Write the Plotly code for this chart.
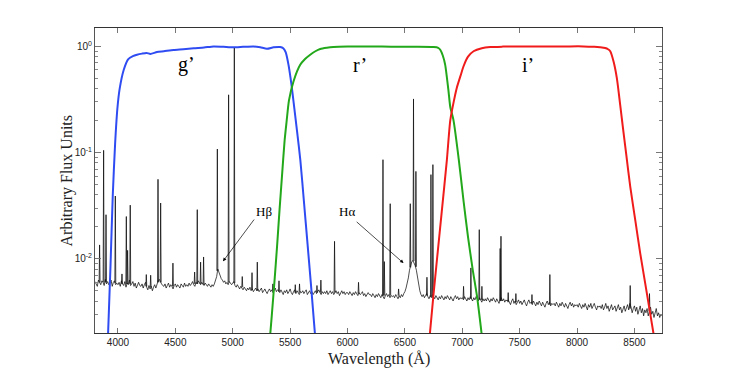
import math
import plotly.graph_objects as go

# ---------------- data ----------------
# Spectrum continuum, sampled every 10 A starting at 3800 A (20 values per 200 A row)
CONT_START = 3800
CONT_STEP = 10
CONT_FLUX = [
    0.0061, 0.0058, 0.0055, 0.0063, 0.0059, 0.0057, 0.0062, 0.0060, 0.0056, 0.0064, 0.0058, 0.0061, 0.0057, 0.0059, 0.0063, 0.0055, 0.0060, 0.0062, 0.0057, 0.0059,  # 3800
    0.0057, 0.0060, 0.0055, 0.0062, 0.0058, 0.0056, 0.0061, 0.0054, 0.0059, 0.0057, 0.0063, 0.0056, 0.0058, 0.0061, 0.0055, 0.0059, 0.0053, 0.0057, 0.0060, 0.0056,  # 4000
    0.0055, 0.0058, 0.0053, 0.0057, 0.0060, 0.0054, 0.0051, 0.0056, 0.0052, 0.0055, 0.0050, 0.0054, 0.0057, 0.0053, 0.0059, 0.0062, 0.0064, 0.0060, 0.0058, 0.0056,  # 4200
    0.0055, 0.0058, 0.0053, 0.0056, 0.0059, 0.0054, 0.0057, 0.0055, 0.0052, 0.0056, 0.0058, 0.0054, 0.0057, 0.0055, 0.0053, 0.0058, 0.0056, 0.0054, 0.0059, 0.0055,  # 4400
    0.0057, 0.0055, 0.0059, 0.0056, 0.0058, 0.0061, 0.0057, 0.0055, 0.0060, 0.0058, 0.0062, 0.0059, 0.0057, 0.0060, 0.0058, 0.0056, 0.0059, 0.0057, 0.0055, 0.0058,  # 4600
    0.0056, 0.0054, 0.0057, 0.0055, 0.0058, 0.0062, 0.0068, 0.0080, 0.0074, 0.0068, 0.0065, 0.0063, 0.0060, 0.0062, 0.0058, 0.0060, 0.0057, 0.0061, 0.0059, 0.0057,  # 4800
    0.0059, 0.0061, 0.0056, 0.0054, 0.0057, 0.0055, 0.0052, 0.0055, 0.0053, 0.0051, 0.0054, 0.0052, 0.0050, 0.0053, 0.0051, 0.0054, 0.0050, 0.0052, 0.0049, 0.0051,  # 5000
    0.0053, 0.0050, 0.0052, 0.0049, 0.0051, 0.0053, 0.0048, 0.0050, 0.0052, 0.0049, 0.0047, 0.0050, 0.0052, 0.0049, 0.0051, 0.0048, 0.0050, 0.0053, 0.0049, 0.0051,  # 5200
    0.0050, 0.0048, 0.0051, 0.0049, 0.0046, 0.0050, 0.0048, 0.0051, 0.0047, 0.0049, 0.0052, 0.0048, 0.0046, 0.0049, 0.0051, 0.0047, 0.0050, 0.0048, 0.0046, 0.0049,  # 5400
    0.0048, 0.0050, 0.0047, 0.0049, 0.0051, 0.0046, 0.0048, 0.0050, 0.0047, 0.0049, 0.0046, 0.0048, 0.0050, 0.0047, 0.0049, 0.0051, 0.0048, 0.0046, 0.0049, 0.0047,  # 5600
    0.0049, 0.0047, 0.0050, 0.0046, 0.0048, 0.0050, 0.0047, 0.0049, 0.0046, 0.0048, 0.0050, 0.0047, 0.0049, 0.0045, 0.0048, 0.0050, 0.0047, 0.0049, 0.0046, 0.0048,  # 5800
    0.0048, 0.0046, 0.0049, 0.0047, 0.0045, 0.0048, 0.0046, 0.0049, 0.0047, 0.0045, 0.0048, 0.0046, 0.0047, 0.0049, 0.0045, 0.0047, 0.0044, 0.0046, 0.0048, 0.0046,  # 6000
    0.0046, 0.0044, 0.0047, 0.0045, 0.0043, 0.0046, 0.0044, 0.0047, 0.0045, 0.0043, 0.0046, 0.0044, 0.0042, 0.0045, 0.0047, 0.0044, 0.0046, 0.0043, 0.0045, 0.0044,  # 6200
    0.0045, 0.0043, 0.0046, 0.0044, 0.0042, 0.0045, 0.0043, 0.0046, 0.0044, 0.0047, 0.0049, 0.0053, 0.0058, 0.0066, 0.0078, 0.0088, 0.0094, 0.0096, 0.0092, 0.0086,  # 6400
    0.0078, 0.0066, 0.0056, 0.0050, 0.0046, 0.0044, 0.0046, 0.0043, 0.0045, 0.0047, 0.0044, 0.0042, 0.0045, 0.0043, 0.0046, 0.0044, 0.0042, 0.0045, 0.0043, 0.0041,  # 6600
    0.0044, 0.0042, 0.0045, 0.0043, 0.0041, 0.0044, 0.0042, 0.0045, 0.0043, 0.0041, 0.0044, 0.0042, 0.0040, 0.0043, 0.0045, 0.0042, 0.0044, 0.0041, 0.0043, 0.0042,  # 6800
    0.0043, 0.0041, 0.0044, 0.0042, 0.0040, 0.0043, 0.0041, 0.0044, 0.0042, 0.0040, 0.0043, 0.0041, 0.0044, 0.0042, 0.0040, 0.0043, 0.0041, 0.0039, 0.0042, 0.0040,  # 7000
    0.0042, 0.0040, 0.0043, 0.0041, 0.0039, 0.0042, 0.0040, 0.0043, 0.0041, 0.0039, 0.0042, 0.0040, 0.0038, 0.0041, 0.0043, 0.0040, 0.0042, 0.0039, 0.0041, 0.0040,  # 7200
    0.0041, 0.0039, 0.0037, 0.0040, 0.0042, 0.0038, 0.0040, 0.0037, 0.0039, 0.0041, 0.0038, 0.0040, 0.0037, 0.0039, 0.0041, 0.0038, 0.0036, 0.0039, 0.0041, 0.0038,  # 7400
    0.0039, 0.0037, 0.0040, 0.0038, 0.0036, 0.0039, 0.0037, 0.0040, 0.0038, 0.0036, 0.0039, 0.0037, 0.0035, 0.0038, 0.0040, 0.0037, 0.0039, 0.0036, 0.0038, 0.0037,  # 7600
    0.0038, 0.0036, 0.0039, 0.0037, 0.0035, 0.0038, 0.0036, 0.0039, 0.0037, 0.0035, 0.0038, 0.0036, 0.0034, 0.0037, 0.0039, 0.0036, 0.0038, 0.0035, 0.0037, 0.0036,  # 7800
    0.0037, 0.0035, 0.0038, 0.0036, 0.0034, 0.0037, 0.0035, 0.0038, 0.0036, 0.0033, 0.0037, 0.0035, 0.0038, 0.0034, 0.0036, 0.0038, 0.0035, 0.0033, 0.0036, 0.0035,  # 8000
    0.0036, 0.0034, 0.0037, 0.0033, 0.0035, 0.0038, 0.0034, 0.0036, 0.0032, 0.0035, 0.0037, 0.0033, 0.0035, 0.0036, 0.0032, 0.0034, 0.0037, 0.0033, 0.0035, 0.0031,  # 8200
    0.0034, 0.0036, 0.0032, 0.0035, 0.0037, 0.0033, 0.0038, 0.0035, 0.0031, 0.0034, 0.0036, 0.0032, 0.0035, 0.0030, 0.0033, 0.0036, 0.0031, 0.0034, 0.0029, 0.0033,  # 8400
    0.0031, 0.0034, 0.0029, 0.0033, 0.0035, 0.0030, 0.0032, 0.0028, 0.0031, 0.0034, 0.0029, 0.0031, 0.0028, 0.0030, 0.0029,                                          # 8600-8740
]

# Emission lines: wavelength, peak flux, local continuum level
LINE_WL = [3840, 3875, 3896, 3977, 4035, 4073, 4084, 4107, 4247, 4285,
           4349, 4372, 4479, 4668, 4691, 4720, 4746, 4866, 4964, 5014,
           5083, 5168, 5214, 5350, 5403, 5545, 5582, 5734, 5768, 5887,
           6096, 6309, 6321, 6372, 6445, 6547, 6575, 6596, 6692, 6727,
           6744, 7011, 7075, 7148, 7171, 7330, 7337, 7400, 7467, 7607,
           7763, 8463, 8631]
LINE_PEAK = [0.0135, 0.105, 0.026, 0.039, 0.0072, 0.025, 0.012, 0.032, 0.0071, 0.0070,
             0.056, 0.0335, 0.0091, 0.0075, 0.029, 0.0093, 0.0104, 0.108, 0.35, 0.97,
             0.0068, 0.0074, 0.0093, 0.0058, 0.0062, 0.0057, 0.0058, 0.0056, 0.0063, 0.0146,
             0.0060, 0.0857, 0.0094, 0.033, 0.0052, 0.033, 0.32, 0.0665, 0.0067, 0.062,
             0.077, 0.0055, 0.0082, 0.0188, 0.0055, 0.0125, 0.0163, 0.0048, 0.0047, 0.0046,
             0.0071, 0.0056, 0.0047]
LINE_BASE = [0.0060, 0.0060, 0.0060, 0.0059, 0.0058, 0.0058, 0.0058, 0.0058, 0.0055, 0.0054,
             0.0060, 0.0060, 0.0055, 0.0058, 0.0058, 0.0058, 0.0057, 0.0077, 0.0060, 0.0059,
             0.0054, 0.0051, 0.0050, 0.0050, 0.0049, 0.0048, 0.0048, 0.0048, 0.0048, 0.0048,
             0.0047, 0.0045, 0.0045, 0.0045, 0.0045, 0.0083, 0.0095, 0.0084, 0.0045, 0.0044,
             0.0043, 0.0042, 0.0042, 0.0041, 0.0041, 0.0040, 0.0040, 0.0039, 0.0039, 0.0038,
             0.0037, 0.0034, 0.0032]
LINE_HALF_WIDTH = 4

# Filter transmission curves
G_WL = [3910, 3935, 3955, 3975, 3995, 4015, 4050, 4090, 4130, 4166, 4210, 4250, 4283, 4340,
        4400, 4485, 4570, 4660, 4750, 4833, 4920, 5007, 5090, 5181, 5240, 5298, 5356, 5414,
        5440, 5462, 5486, 5510, 5530, 5560, 5589, 5620, 5650, 5680, 5725]
G_T = [0.0015, 0.0085, 0.04, 0.12, 0.26, 0.40, 0.60, 0.76, 0.81, 0.835, 0.855, 0.867, 0.85, 0.885,
       0.90, 0.925, 0.94, 0.96, 0.975, 1.0, 0.99, 0.98, 0.99, 1.0, 0.98, 0.95, 0.98, 0.985,
       0.96, 0.88, 0.67, 0.45, 0.30, 0.16, 0.085, 0.035, 0.0145, 0.006, 0.0015]

R_WL = [5318, 5340, 5364, 5386, 5408, 5430, 5452, 5470, 5490, 5530, 5588, 5630, 5675, 5720,
        5762, 5820, 5878, 6000, 6170, 6300, 6460, 6600, 6750, 6790, 6808, 6830, 6851, 6880,
        6895, 6924, 6970, 7011, 7050, 7090, 7130, 7178]
R_T = [0.0015, 0.0029, 0.0062, 0.013, 0.029, 0.062, 0.13, 0.20, 0.31, 0.47, 0.67, 0.76, 0.835, 0.90,
       0.945, 0.97, 0.985, 0.995, 1.0, 0.995, 0.99, 0.99, 0.985, 0.97, 0.93, 0.82, 0.67, 0.38,
       0.27, 0.20, 0.085, 0.035, 0.016, 0.008, 0.0043, 0.0016]

I_WL = [6705, 6750, 6780, 6820, 6866, 6895, 6925, 6953, 6985, 7011, 7050, 7098, 7170, 7243,
        7350, 7476, 7620, 7766, 7900, 8056, 8150, 8200, 8245, 8270, 8289, 8318, 8347, 8376,
        8400, 8430, 8463, 8510, 8550, 8610, 8680]
I_T = [0.0014, 0.0047, 0.010, 0.027, 0.086, 0.20, 0.30, 0.41, 0.53, 0.65, 0.80, 0.90, 0.96, 0.985,
       0.995, 1.0, 1.0, 1.0, 1.0, 1.0, 0.99, 0.98, 0.965, 0.94, 0.90, 0.72, 0.50, 0.28,
       0.17, 0.093, 0.048, 0.022, 0.0113, 0.0046, 0.0016]

FILTER_NAMES = ["g’", "r’", "i’"]
FILTER_LABEL_WL = [4595, 6111, 7570]
FILTER_LABEL_FLUX = [0.67, 0.67, 0.67]

X_TICKS = [4000, 4500, 5000, 5500, 6000, 6500, 7000, 7500, 8000, 8500]
Y_TICKS = [0.01, 0.1, 1]
Y_TICK_TEXT = ["10<sup>-2</sup>", "10<sup>-1</sup>", "10<sup>0</sup>"]
Y_MINOR = [m * d for d in (0.001, 0.01, 0.1) for m in range(2, 10)]

X_RANGE = [3800, 8740]
Y_RANGE = [0.002, 1.49]

# Annotations: (label, text wl, text flux, arrow tail wl, tail flux, head wl, head flux)
ANNOT = [
    ("Hβ", 5269, 0.0279, 5196, 0.0242, 4915, 0.00946),
    ("Hα", 5995, 0.0279, 6067, 0.0229, 6488, 0.0091),
]

assert len(LINE_WL) == len(LINE_PEAK) == len(LINE_BASE)

# ---------------- figure ----------------
cont_wl = [CONT_START + CONT_STEP * i for i in range(len(CONT_FLUX))]

spike_x, spike_y = [], []
for wl, pk, bs in zip(LINE_WL, LINE_PEAK, LINE_BASE):
    spike_x += [wl - LINE_HALF_WIDTH, wl, wl + LINE_HALF_WIDTH, None]
    spike_y += [bs, pk, bs, None]

fig = go.Figure()
fig.add_trace(go.Scatter(x=cont_wl, y=CONT_FLUX, mode="lines",
                         line=dict(color="black", width=0.7), hoverinfo="skip"))
fig.add_trace(go.Scatter(x=spike_x, y=spike_y, mode="lines",
                         line=dict(color="#111", width=0.8), hoverinfo="skip"))

for wl, tr, col in ((G_WL, G_T, "#2f4cf2"), (R_WL, R_T, "#22a81a"), (I_WL, I_T, "#f01c1c")):
    fig.add_trace(go.Scatter(x=wl, y=tr, mode="lines",
                             line=dict(color=col, width=2, shape="spline", smoothing=0.6),
                             hoverinfo="skip"))

serif = "Liberation Serif, Times New Roman, serif"
sans = "Liberation Sans, Arial, sans-serif"

annotations = []
for name, wl, fl in zip(FILTER_NAMES, FILTER_LABEL_WL, FILTER_LABEL_FLUX):
    annotations.append(dict(x=wl, y=math.log10(fl), xref="x", yref="y", text=name,
                            showarrow=False, font=dict(family=serif, size=20, color="black"),
                            xanchor="center", yanchor="middle"))
for lab, tx, ty, ax_, ay_, hx, hy in ANNOT:
    annotations.append(dict(x=tx, y=math.log10(ty), xref="x", yref="y", text=lab,
                            showarrow=False, font=dict(family=serif, size=13, color="black"),
                            xanchor="center", yanchor="middle"))
    annotations.append(dict(x=hx, y=math.log10(hy), xref="x", yref="y",
                            ax=ax_, ay=math.log10(ay_), axref="x", ayref="y", text="",
                            showarrow=True, arrowhead=2, arrowsize=1, arrowwidth=0.7,
                            arrowcolor="black"))

annotations.append(dict(x=0.5, y=0, xref="paper", yref="paper", text="Wavelength (Å)",
                        showarrow=False, xanchor="center", yanchor="middle", yshift=-26,
                        font=dict(family=serif, size=16, color="#222")))
annotations.append(dict(x=0, y=0.5, xref="paper", yref="paper", text="Arbitrary Flux Units",
                        showarrow=False, xanchor="center", yanchor="middle", xshift=-29,
                        textangle=-90, font=dict(family=serif, size=16, color="#222")))

# the page adds an 8 px body margin, so the figure is sized to fit inside the window
fig.update_layout(
    width=724, height=367,
    margin=dict(l=87, r=70, t=20, b=42),
    paper_bgcolor="white", plot_bgcolor="white",
    showlegend=False,
    annotations=annotations,
)
fig.update_xaxes(
    range=X_RANGE, tickvals=X_TICKS, ticktext=[str(v) for v in X_TICKS],
    ticks="inside", ticklen=5, tickcolor="#777", tickwidth=1,
    showline=True, linecolor="#333", linewidth=1, mirror="ticks",
    showgrid=False, zeroline=False,
    tickfont=dict(family=sans, size=10, color="#222"),
)
fig.update_yaxes(
    type="log", range=[math.log10(Y_RANGE[0]), math.log10(Y_RANGE[1])],
    tickvals=Y_TICKS, ticktext=Y_TICK_TEXT,
    ticks="inside", ticklen=6, tickcolor="#777", tickwidth=1,
    minor=dict(tickmode="array", tickvals=Y_MINOR, ticks="inside", ticklen=3,
               tickcolor="#888", showgrid=False),
    showline=True, linecolor="#555", linewidth=1, mirror="ticks",
    showgrid=False, zeroline=False,
    tickfont=dict(family=sans, size=10, color="#222"),
)

fig.write_html("out.html")
